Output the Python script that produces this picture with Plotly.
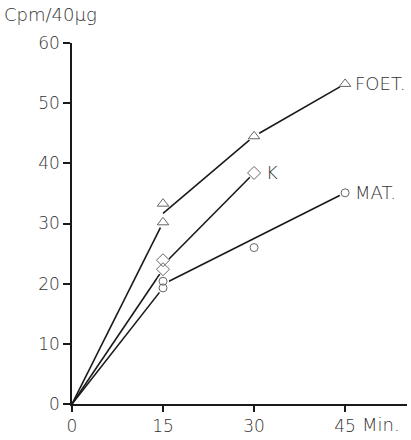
import plotly.graph_objects as go

# Measured points
foet_x = [15, 15, 30, 45]
foet_y = [33.3, 30.2, 44.5, 53.2]
k_x = [15, 15, 30]
k_y = [23.9, 22.4, 38.4]
mat_x = [15, 15, 30, 45]
mat_y = [20.4, 19.3, 26.0, 35.1]

# Drawn curves (segments)
foet_l1_x = [0, 15]
foet_l1_y = [0, 30.2]
foet_l2_x = [15, 30, 45]
foet_l2_y = [31.7, 44.5, 53.2]
k_l1_x = [0, 15]
k_l1_y = [0, 22.4]
k_l2_x = [15, 30]
k_l2_y = [23.1, 38.4]
mat_l1_x = [0, 15]
mat_l1_y = [0, 19.3]
mat_l2_x = [15, 45]
mat_l2_y = [19.9, 35.1]

x_ticks = [0, 15, 30, 45]
y_ticks = [0, 10, 20, 30, 40, 50, 60]

FONT = "DejaVu Sans, Liberation Sans, Arial, sans-serif"
INK = "#1a1a1a"
TXT = "#333333"
MK = "#666666"

fig = go.Figure()

for lx, ly in [(foet_l1_x, foet_l1_y), (foet_l2_x, foet_l2_y),
               (k_l1_x, k_l1_y), (k_l2_x, k_l2_y),
               (mat_l1_x, mat_l1_y), (mat_l2_x, mat_l2_y)]:
    fig.add_trace(go.Scatter(x=lx, y=ly, mode="lines",
                             line=dict(color=INK, width=1.6),
                             hoverinfo="skip", showlegend=False, cliponaxis=False))

# white halos to create gaps around markers
for px, py in [(foet_x, foet_y), (k_x, k_y), (mat_x, mat_y)]:
    fig.add_trace(go.Scatter(x=px, y=py, mode="markers",
                             marker=dict(symbol="circle", size=12, color="white",
                                         line=dict(width=0)),
                             hoverinfo="skip", showlegend=False, cliponaxis=False))

for px, py, sym, sz in [(foet_x, foet_y, "triangle-up-open", 10),
                        (k_x, k_y, "diamond-open", 10),
                        (mat_x, mat_y, "circle-open", 8)]:
    fig.add_trace(go.Scatter(x=px, y=py, mode="markers",
                             marker=dict(symbol=sym, size=sz, color=MK,
                                         line=dict(width=1, color=MK)),
                             showlegend=False, cliponaxis=False))

LBL = dict(family=FONT, size=18, color=TXT, weight=300)
# series labels
fig.add_annotation(x=45, y=53.2, text="FOET.", showarrow=False, xanchor="left",
                   yanchor="middle", xshift=8, font=LBL)
fig.add_annotation(x=30, y=38.4, text="K", showarrow=False, xanchor="left",
                   yanchor="middle", xshift=10, font=LBL)
fig.add_annotation(x=45, y=35.1, text="MAT.", showarrow=False, xanchor="left",
                   yanchor="middle", xshift=8, font=LBL)

fig.add_annotation(xref="paper", yref="paper", x=-0.2, y=1.0, xshift=-3, yshift=16,
                   text="Cpm/40\u03bcg", showarrow=False, xanchor="left", yanchor="bottom",
                   font=LBL)
fig.add_annotation(x=45, y=0, text="Min.", showarrow=False, xanchor="left",
                   yanchor="top", xshift=15, yshift=-8, font=LBL)

TICKF = dict(family=FONT, size=17, color=TXT, weight=300)
fig.update_layout(
    width=411, height=440,
    margin=dict(l=72, r=4, t=43, b=33),
    paper_bgcolor="white", plot_bgcolor="white",
    font=dict(family=FONT, size=16, color=TXT),
    xaxis=dict(range=[0, 55.2], tickvals=x_ticks, ticktext=[str(v) for v in x_ticks],
               showgrid=False, zeroline=False, showline=True, linecolor=INK, linewidth=1.5,
               ticks="outside", ticklen=6, tickwidth=1.5, tickcolor=INK,
               tickfont=TICKF),
    yaxis=dict(range=[0, 60], tickvals=y_ticks, ticktext=[str(v) for v in y_ticks],
               showgrid=False, zeroline=False, showline=True, linecolor=INK, linewidth=1.5,
               ticks="outside", ticklen=7, tickwidth=1.5, tickcolor=INK,
               tickfont=TICKF),
)

fig.write_html("out.html", config={"displayModeBar": False},
               post_script="document.body.style.margin='0';")
